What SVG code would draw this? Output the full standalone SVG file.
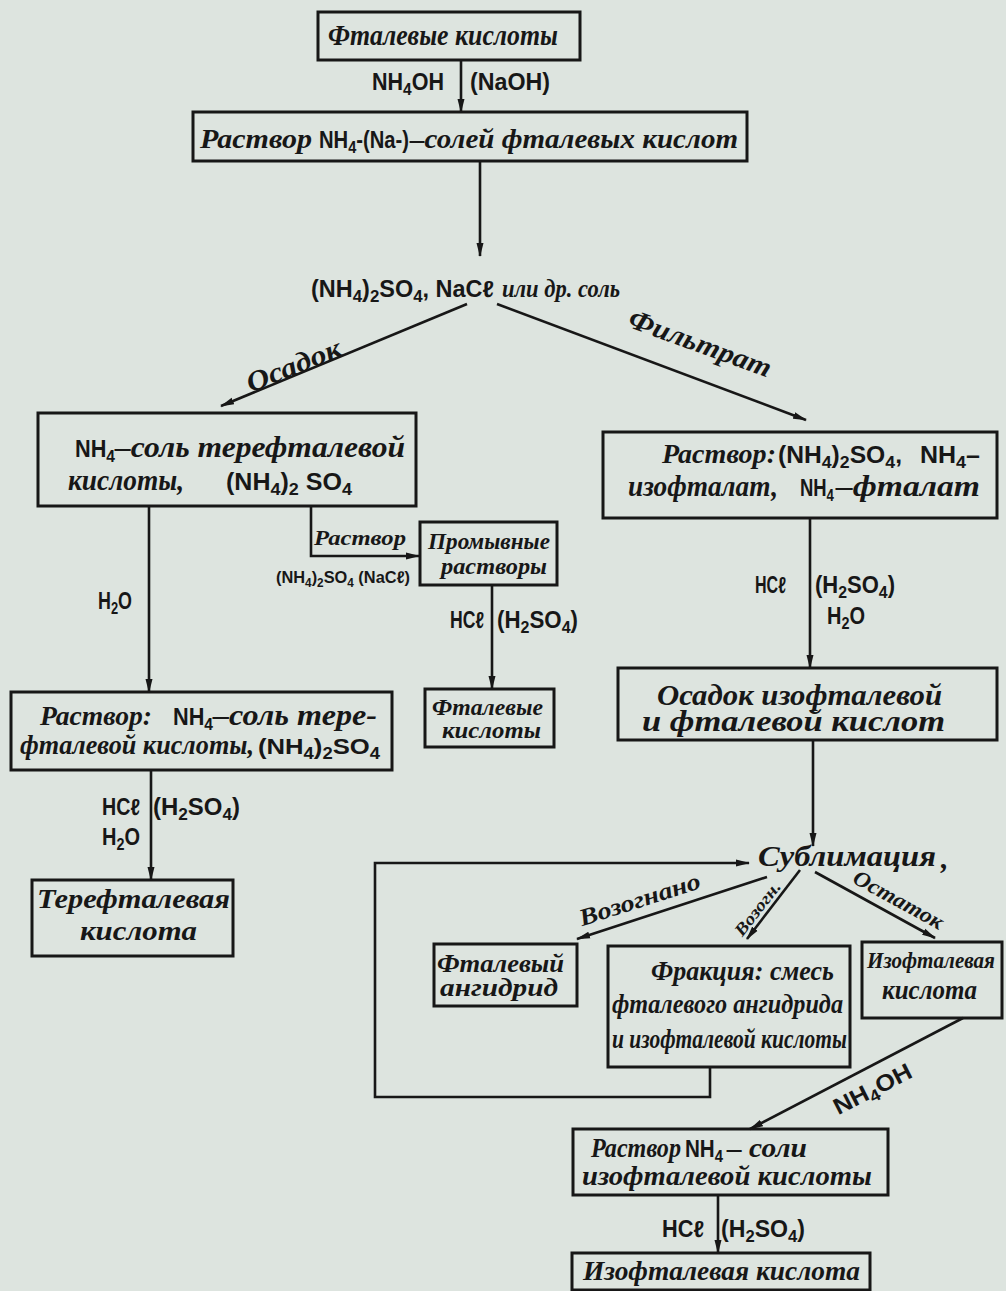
<svg xmlns="http://www.w3.org/2000/svg" width="1006" height="1291" viewBox="0 0 1006 1291">
<style>
.bx{fill:none;stroke:#171717;stroke-width:3}
.ln{fill:none;stroke:#171717;stroke-width:2.6}
.it{font-family:"Liberation Serif",serif;font-style:italic;font-weight:bold;fill:#171717}
.up{font-family:"Liberation Sans","DejaVu Sans",sans-serif;font-weight:bold;fill:#171717}
.sb{font-size:0.72em}
</style>
<defs>
<marker id="ah" markerUnits="userSpaceOnUse" markerWidth="14" markerHeight="8" refX="13" refY="4" orient="auto">
<path d="M0,0.5 L14,4 L0,7.5 z" fill="#171717"/>
</marker>
</defs>
<rect width="1006" height="1291" fill="#dde4df"/>

<g id="connectors">
<line class="ln" x1="461" y1="60" x2="461" y2="112" marker-end="url(#ah)"/>
<line class="ln" x1="480" y1="161" x2="480" y2="256" marker-end="url(#ah)"/>
<line class="ln" x1="467" y1="304" x2="221" y2="406" marker-end="url(#ah)"/>
<line class="ln" x1="497" y1="304" x2="806" y2="420" marker-end="url(#ah)"/>
<line class="ln" x1="149" y1="506" x2="149" y2="692" marker-end="url(#ah)"/>
<polyline class="ln" points="311,506 311,556 419,556" marker-end="url(#ah)"/>
<line class="ln" x1="492" y1="585" x2="492" y2="689" marker-end="url(#ah)"/>
<line class="ln" x1="151" y1="770" x2="151" y2="880" marker-end="url(#ah)"/>
<line class="ln" x1="810" y1="518" x2="810" y2="668" marker-end="url(#ah)"/>
<line class="ln" x1="813" y1="740" x2="813" y2="846" marker-end="url(#ah)"/>
<polyline class="ln" points="710,1067 710,1097 375,1097 375,863 749,863" marker-end="url(#ah)"/>
<line class="ln" x1="767" y1="877" x2="577" y2="939" marker-end="url(#ah)"/>
<line class="ln" x1="800" y1="870" x2="747" y2="939" marker-end="url(#ah)"/>
<line class="ln" x1="815" y1="872" x2="935" y2="938" marker-end="url(#ah)"/>
<line class="ln" x1="963" y1="1018" x2="750" y2="1129" marker-end="url(#ah)"/>
<line class="ln" x1="718" y1="1195" x2="718" y2="1253" marker-end="url(#ah)"/>
</g>

<g id="edge-labels">
<text class="up" x="372" y="90" font-size="23" textLength="72" lengthAdjust="spacingAndGlyphs">NH<tspan class="sb" dy="5">4</tspan><tspan dy="-5">OH</tspan></text>
<text class="up" x="470" y="90" font-size="23" textLength="80" lengthAdjust="spacingAndGlyphs">(NaOH)</text>

<text class="up" x="311" y="297" font-size="23" textLength="183" lengthAdjust="spacingAndGlyphs">(NH<tspan class="sb" dy="5">4</tspan><tspan dy="-5">)</tspan><tspan class="sb" dy="5">2</tspan><tspan dy="-5">SO</tspan><tspan class="sb" dy="5">4</tspan><tspan dy="-5">, NaCℓ</tspan></text>
<text class="it" x="502" y="297" font-size="26" textLength="118" lengthAdjust="spacingAndGlyphs">или др. соль</text>

<text class="it" font-size="28" text-anchor="middle" transform="translate(297 374) rotate(-22)" textLength="100" lengthAdjust="spacingAndGlyphs">Осадок</text>
<text class="it" font-size="28" text-anchor="middle" transform="translate(697 352) rotate(20)" textLength="150" lengthAdjust="spacingAndGlyphs">Фильтрат</text>

<text class="up" x="98" y="609" font-size="23" textLength="34" lengthAdjust="spacingAndGlyphs">H<tspan class="sb" dy="5">2</tspan><tspan dy="-5">O</tspan></text>

<text class="it" x="314" y="545" font-size="22" textLength="92" lengthAdjust="spacingAndGlyphs">Раствор</text>
<text class="up" x="276" y="583" font-size="17" textLength="134" lengthAdjust="spacingAndGlyphs">(NH<tspan class="sb" dy="4">4</tspan><tspan dy="-4">)</tspan><tspan class="sb" dy="4">2</tspan><tspan dy="-4">SO</tspan><tspan class="sb" dy="4">4</tspan><tspan dy="-4"> (NaCℓ)</tspan></text>

<text class="up" x="450" y="628" font-size="23" textLength="34" lengthAdjust="spacingAndGlyphs">HCℓ</text>
<text class="up" x="497" y="628" font-size="23" textLength="81" lengthAdjust="spacingAndGlyphs">(H<tspan class="sb" dy="5">2</tspan><tspan dy="-5">SO</tspan><tspan class="sb" dy="5">4</tspan><tspan dy="-5">)</tspan></text>

<text class="up" x="102" y="815" font-size="23" textLength="38" lengthAdjust="spacingAndGlyphs">HCℓ</text>
<text class="up" x="153" y="815" font-size="23" textLength="87" lengthAdjust="spacingAndGlyphs">(H<tspan class="sb" dy="5">2</tspan><tspan dy="-5">SO</tspan><tspan class="sb" dy="5">4</tspan><tspan dy="-5">)</tspan></text>
<text class="up" x="102" y="845" font-size="23" textLength="38" lengthAdjust="spacingAndGlyphs">H<tspan class="sb" dy="5">2</tspan><tspan dy="-5">O</tspan></text>

<text class="up" x="755" y="593" font-size="23" textLength="31" lengthAdjust="spacingAndGlyphs">HCℓ</text>
<text class="up" x="815" y="593" font-size="23" textLength="80" lengthAdjust="spacingAndGlyphs">(H<tspan class="sb" dy="5">2</tspan><tspan dy="-5">SO</tspan><tspan class="sb" dy="5">4</tspan><tspan dy="-5">)</tspan></text>
<text class="up" x="827" y="624" font-size="23" textLength="38" lengthAdjust="spacingAndGlyphs">H<tspan class="sb" dy="5">2</tspan><tspan dy="-5">O</tspan></text>

<text class="it" font-size="24" text-anchor="middle" transform="translate(642 907) rotate(-17.7)" textLength="126" lengthAdjust="spacingAndGlyphs">Возогнано</text>
<text class="it" font-size="17" text-anchor="middle" transform="translate(762 912) rotate(-52)" textLength="64" lengthAdjust="spacingAndGlyphs">Возогн.</text>
<text class="it" font-size="22" text-anchor="middle" transform="translate(895 906) rotate(28.8)" textLength="100" lengthAdjust="spacingAndGlyphs">Остаток</text>

<text class="up" font-size="23" text-anchor="middle" transform="translate(876 1096) rotate(-27)" textLength="85" lengthAdjust="spacingAndGlyphs">NH<tspan class="sb" dy="5">4</tspan><tspan dy="-5">OH</tspan></text>

<text class="up" x="662" y="1237" font-size="23" textLength="42" lengthAdjust="spacingAndGlyphs">HCℓ</text>
<text class="up" x="721" y="1237" font-size="23" textLength="84" lengthAdjust="spacingAndGlyphs">(H<tspan class="sb" dy="5">2</tspan><tspan dy="-5">SO</tspan><tspan class="sb" dy="5">4</tspan><tspan dy="-5">)</tspan></text>
</g>

<g id="n-phthalic-acids">
<rect class="bx" x="318" y="12" width="262" height="48"/>
<text class="it" x="328" y="45" font-size="30" textLength="230" lengthAdjust="spacingAndGlyphs">Фталевые кислоты</text>
</g>

<g id="n-salt-solution">
<rect class="bx" x="193" y="112" width="554" height="49"/>
<text class="it" x="200" y="148" font-size="28" textLength="112" lengthAdjust="spacingAndGlyphs">Раствор</text>
<text class="up" x="319" y="148" font-size="23" textLength="90" lengthAdjust="spacingAndGlyphs">NH<tspan class="sb" dy="5">4</tspan><tspan dy="-5">-(Na-)</tspan></text>
<text class="it" x="410" y="148" font-size="28" textLength="328" lengthAdjust="spacingAndGlyphs">–солей фталевых кислот</text>
</g>

<g id="n-tere-salt">
<rect class="bx" x="38" y="413" width="378" height="93"/>
<text class="up" x="75" y="457" font-size="24" textLength="40" lengthAdjust="spacingAndGlyphs">NH<tspan class="sb" dy="5">4</tspan></text>
<text class="it" x="115" y="457" font-size="30" textLength="290" lengthAdjust="spacingAndGlyphs">–соль терефталевой</text>
<text class="it" x="68" y="490" font-size="30" textLength="116" lengthAdjust="spacingAndGlyphs">кислоты,</text>
<text class="up" x="226" y="490" font-size="24" textLength="126" lengthAdjust="spacingAndGlyphs">(NH<tspan class="sb" dy="5">4</tspan><tspan dy="-5">)</tspan><tspan class="sb" dy="5">2</tspan><tspan dy="-5"> SO</tspan><tspan class="sb" dy="5">4</tspan></text>
</g>

<g id="n-filtrate">
<rect class="bx" x="603" y="432" width="394" height="86"/>
<text class="it" x="662" y="463" font-size="28" textLength="114" lengthAdjust="spacingAndGlyphs">Раствор:</text>
<text class="up" x="778" y="463" font-size="24" textLength="124" lengthAdjust="spacingAndGlyphs">(NH<tspan class="sb" dy="5">4</tspan><tspan dy="-5">)</tspan><tspan class="sb" dy="5">2</tspan><tspan dy="-5">SO</tspan><tspan class="sb" dy="5">4</tspan><tspan dy="-5">,</tspan></text>
<text class="up" x="920" y="463" font-size="24" textLength="60" lengthAdjust="spacingAndGlyphs">NH<tspan class="sb" dy="5">4</tspan><tspan dy="-5">–</tspan></text>
<text class="it" x="628" y="496" font-size="30" textLength="150" lengthAdjust="spacingAndGlyphs">изофталат,</text>
<text class="up" x="800" y="496" font-size="24" textLength="34" lengthAdjust="spacingAndGlyphs">NH<tspan class="sb" dy="5">4</tspan></text>
<text class="it" x="836" y="496" font-size="30" textLength="144" lengthAdjust="spacingAndGlyphs">–фталат</text>
</g>

<g id="n-wash">
<rect class="bx" x="420" y="522" width="137" height="63"/>
<text class="it" x="428" y="549" font-size="24" textLength="122" lengthAdjust="spacingAndGlyphs">Промывные</text>
<text class="it" x="441" y="574" font-size="24" textLength="106" lengthAdjust="spacingAndGlyphs">растворы</text>
</g>

<g id="n-phthalic-acids-2">
<rect class="bx" x="425" y="689" width="129" height="58"/>
<text class="it" x="432" y="715" font-size="24" textLength="111" lengthAdjust="spacingAndGlyphs">Фталевые</text>
<text class="it" x="442" y="738" font-size="24" textLength="99" lengthAdjust="spacingAndGlyphs">кислоты</text>
</g>

<g id="n-tere-solution">
<rect class="bx" x="11" y="692" width="381" height="78"/>
<text class="it" x="40" y="725" font-size="28" textLength="112" lengthAdjust="spacingAndGlyphs">Раствор:</text>
<text class="up" x="173" y="725" font-size="24" textLength="40" lengthAdjust="spacingAndGlyphs">NH<tspan class="sb" dy="5">4</tspan></text>
<text class="it" x="213" y="725" font-size="30" textLength="164" lengthAdjust="spacingAndGlyphs">–соль тере-</text>
<text class="it" x="20" y="754" font-size="28" textLength="234" lengthAdjust="spacingAndGlyphs">фталевой кислоты,</text>
<text class="up" x="258" y="754" font-size="22" textLength="122" lengthAdjust="spacingAndGlyphs">(NH<tspan class="sb" dy="5">4</tspan><tspan dy="-5">)</tspan><tspan class="sb" dy="5">2</tspan><tspan dy="-5">SO</tspan><tspan class="sb" dy="5">4</tspan></text>
</g>

<g id="n-terephthalic">
<rect class="bx" x="32" y="880" width="201" height="76"/>
<text class="it" x="37" y="908" font-size="28" textLength="193" lengthAdjust="spacingAndGlyphs">Терефталевая</text>
<text class="it" x="80" y="940" font-size="28" textLength="117" lengthAdjust="spacingAndGlyphs">кислота</text>
</g>

<g id="n-precipitate">
<rect class="bx" x="618" y="668" width="379" height="72"/>
<text class="it" x="657" y="705" font-size="30" textLength="285" lengthAdjust="spacingAndGlyphs">Осадок изофталевой</text>
<text class="it" x="642" y="731" font-size="30" textLength="303" lengthAdjust="spacingAndGlyphs">и фталевой кислот</text>
</g>

<g id="n-sublimation">
<text class="it" x="758" y="866" font-size="30" textLength="178" lengthAdjust="spacingAndGlyphs">Сублимация</text>
<text class="it" x="941" y="868" font-size="30">,</text>
</g>

<g id="n-anhydride">
<rect class="bx" x="434" y="944" width="143" height="62"/>
<text class="it" x="437" y="972" font-size="26" textLength="127" lengthAdjust="spacingAndGlyphs">Фталевый</text>
<text class="it" x="440" y="996" font-size="26" textLength="118" lengthAdjust="spacingAndGlyphs">ангидрид</text>
</g>

<g id="n-fraction">
<rect class="bx" x="608" y="946" width="242" height="121"/>
<text class="it" x="651" y="980" font-size="28" textLength="183" lengthAdjust="spacingAndGlyphs">Фракция: смесь</text>
<text class="it" x="612" y="1013" font-size="28" textLength="231" lengthAdjust="spacingAndGlyphs">фталевого ангидрида</text>
<text class="it" x="612" y="1048" font-size="28" textLength="235" lengthAdjust="spacingAndGlyphs">и изофталевой кислоты</text>
</g>

<g id="n-isophthalic-residue">
<rect class="bx" x="862" y="942" width="140" height="76"/>
<text class="it" x="867" y="968" font-size="24" textLength="128" lengthAdjust="spacingAndGlyphs">Изофталевая</text>
<text class="it" x="882" y="999" font-size="28" textLength="95" lengthAdjust="spacingAndGlyphs">кислота</text>
</g>

<g id="n-iso-salt">
<rect class="bx" x="573" y="1129" width="315" height="66"/>
<text class="it" x="591" y="1157" font-size="28" textLength="90" lengthAdjust="spacingAndGlyphs">Раствор</text>
<text class="up" x="685" y="1157" font-size="24" textLength="38" lengthAdjust="spacingAndGlyphs">NH<tspan class="sb" dy="5">4</tspan></text>
<text class="it" x="727" y="1157" font-size="28" textLength="80" lengthAdjust="spacingAndGlyphs">– соли</text>
<text class="it" x="582" y="1185" font-size="28" textLength="290" lengthAdjust="spacingAndGlyphs">изофталевой кислоты</text>
</g>

<g id="n-isophthalic">
<rect class="bx" x="572" y="1253" width="298" height="37"/>
<text class="it" x="583" y="1280" font-size="28" textLength="277" lengthAdjust="spacingAndGlyphs">Изофталевая кислота</text>
</g>
</svg>
